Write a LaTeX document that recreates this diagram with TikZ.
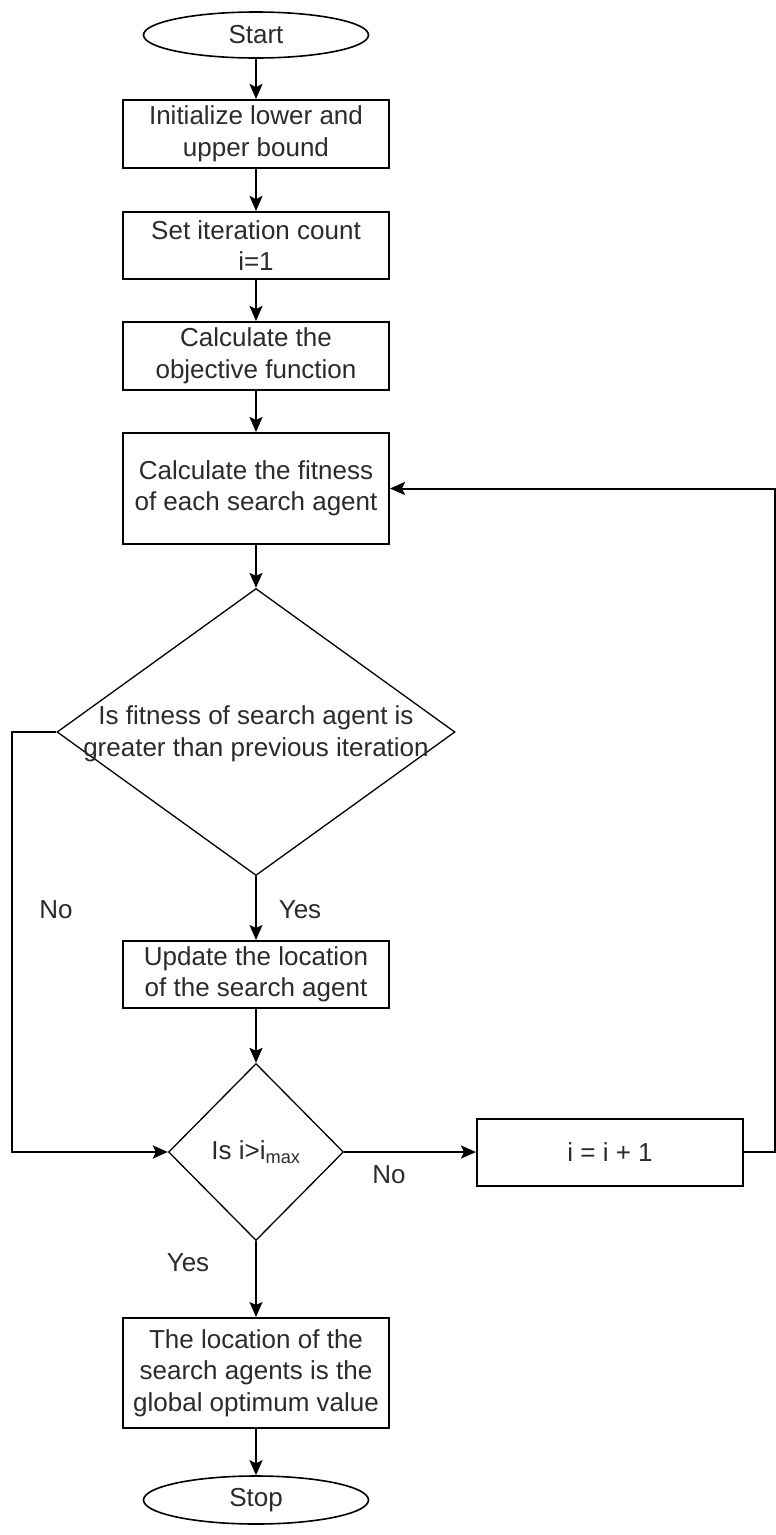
\documentclass[tikz,border=0pt]{standalone}
\usepackage{fontspec}
\setmainfont{Liberation Sans}
\usetikzlibrary{shapes.geometric,arrows.meta}
\definecolor{txt}{HTML}{2B2B2B}
\begin{document}
\begin{tikzpicture}[x=1pt,y=-1pt,
  every node/.style={font=\fontsize{26}{31.5}\selectfont, text=txt},
  proc/.style={draw=black, line width=2pt, fill=white, minimum width=266pt, inner sep=0pt, align=center},
  term/.style={draw=black, line width=1.6pt, ellipse, minimum width=225pt, minimum height=46pt, inner sep=0pt},
  dec/.style={draw=black, line width=1.3pt, diamond, inner sep=0pt},
  arr/.style={draw=black, line width=2pt, -{Stealth[length=15pt,width=13pt,inset=3pt]}},
  lbl/.style={inner sep=0pt},
]
\fill[white] (0,0) rectangle (776,1535);
\useasboundingbox (0,0) rectangle (776,1535);

\node[term] (start) at (256,35) {Start};
\node[proc, minimum height=68pt] (b1) at (256,134) {Initialize lower and\\upper bound};
\node[proc, minimum height=67pt] (b2) at (256,245.5) {Set iteration count\\i=1};
\node[proc, minimum height=68pt] (b3) at (256,356) {Calculate the\\objective function};
\node[proc, minimum height=111pt] (b4) at (256,488.5) {Calculate the fitness\\of each search agent};
\node[dec, minimum width=398pt, minimum height=287pt] (d1) at (256,732) {};
\node[align=center, inner sep=0pt] (d1t) at (256,734) {Is fitness of search agent is\\greater than previous iteration};
\node[proc, minimum height=67pt] (b5) at (256,974.5) {Update the location\\of the search agent};
\node[dec, minimum width=175pt, minimum height=177pt] (d2) at (256,1152) {};
\node[inner sep=0pt] (d2t) at (256,1152) {Is i>i\textsubscript{max}};
\node[proc, minimum height=67pt] (b6) at (610,1152) {i = i + 1};
\node[proc, minimum height=110pt] (b7) at (256,1373) {The location of the\\search agents is the\\global optimum value};
\node[term, minimum height=48pt] (stop) at (256,1500) {Stop};

\coordinate (lx) at (12,0);
\coordinate (rx) at (774.5,0);

\draw[arr] (start) -- (b1);
\draw[arr] (b1) -- (b2);
\draw[arr] (b2) -- (b3);
\draw[arr] (b3) -- (b4);
\draw[arr] (b4) -- (d1.north);
\draw[arr] (d1.south) -- (b5);
\draw[arr] (b5) -- (d2.north);
\draw[arr] (d2.east) -- (b6.west);
\draw[arr] (d2.south) -- (b7);
\draw[arr] (b7) -- (stop);
\draw[arr] (d1.west) -- (d1.west -| lx) |- (d2.west);
\draw[arr] (b6.east) -- (b6.east -| rx) |- (b4.east);

\node[lbl] (lno1) at (56,910) {No};
\node[lbl] (lyes1) at (300,910) {Yes};
\node[lbl] (lno2) at (389,1175) {No};
\node[lbl] (lyes2) at (188,1263) {Yes};
\end{tikzpicture}
\end{document}
